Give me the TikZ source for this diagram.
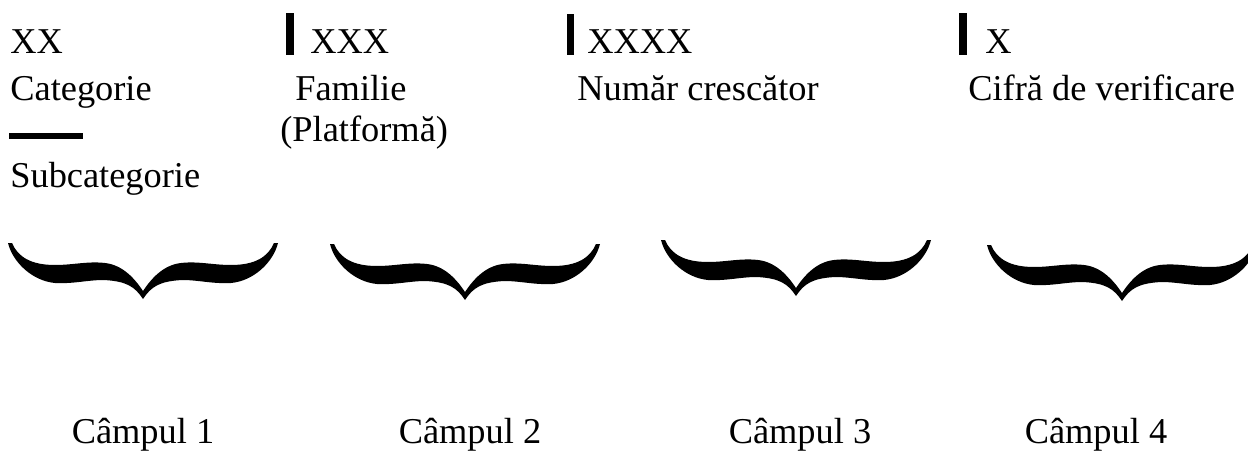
\documentclass[tikz,border=0pt]{standalone}
\usepackage{fontspec}
\setmainfont{Liberation Serif}
\tikzset{
	txt/.style={inner sep=0pt,anchor=base west,font=\fontsize{20.7pt}{24pt}\selectfont},
	lbl/.style={inner sep=0pt,anchor=base,font=\fontsize{20.7pt}{24pt}\selectfont},
	bar/.style={fill=black,draw=none},
	curlybrace/.pic={
		\fill (0,56) .. controls (-8,44) and (-16,38) .. (-40,37)
		.. controls (-55,37) and (-70,41) .. (-88,40)
		.. controls (-110,38) and (-130,20) .. (-135,0) -- (-131,0)
		.. controls (-125,14) and (-112,22) .. (-88,22)
		.. controls (-70,22) and (-55,18) .. (-38,20)
		.. controls (-20,22) and (-8,36) .. (0,48)
		.. controls (8,36) and (20,22) .. (38,20)
		.. controls (55,18) and (70,22) .. (88,22)
		.. controls (112,22) and (125,14) .. (131,0) -- (135,0)
		.. controls (130,20) and (110,38) .. (88,40)
		.. controls (70,41) and (55,37) .. (40,37)
		.. controls (16,38) and (8,44) .. (0,56) -- cycle;
	}
}
\begin{document}
\begin{tikzpicture}[x=0.02cm,y=-0.02cm]
	\useasboundingbox (0,0) rectangle (1248,453);
	% top row
	\node [txt] (xx) at (10,53) {XX};
	\node [txt] (xxx) at (310,53) {XXX};
	\node [txt] (xxxx) at (587,53) {XXXX};
	\node [txt] (x) at (985,53) {X};
	\fill [bar] (286,13) rectangle (294,55);
	\fill [bar] (567,14) rectangle (574,55);
	\fill [bar] (959,13) rectangle (967,55);
	% second row
	\node [txt] (cat) at (10,100) {Categorie};
	\node [txt] (fam) at (295,100) {Familie};
	\node [txt] (plat) at (280,141) {(Platformă)};
	\node [txt] (nr) at (577,100) {Număr crescător};
	\node [txt] (cif) at (968,100) {Cifră de verificare};
	\fill [bar] (9,133) rectangle (83,139);
	\node [txt] (sub) at (10,187) {Subcategorie};
	% braces
	\pic at (143,243) {curlybrace};
	\pic at (465,244) {curlybrace};
	\pic at (796,240) {curlybrace};
	\pic at (1122,245) {curlybrace};
	% fields
	\node [lbl] (c1) at (143,443) {Câmpul 1};
	\node [lbl] (c2) at (470,443) {Câmpul 2};
	\node [lbl] (c3) at (800,443) {Câmpul 3};
	\node [lbl] (c4) at (1096,443) {Câmpul 4};
\end{tikzpicture}
\end{document}
